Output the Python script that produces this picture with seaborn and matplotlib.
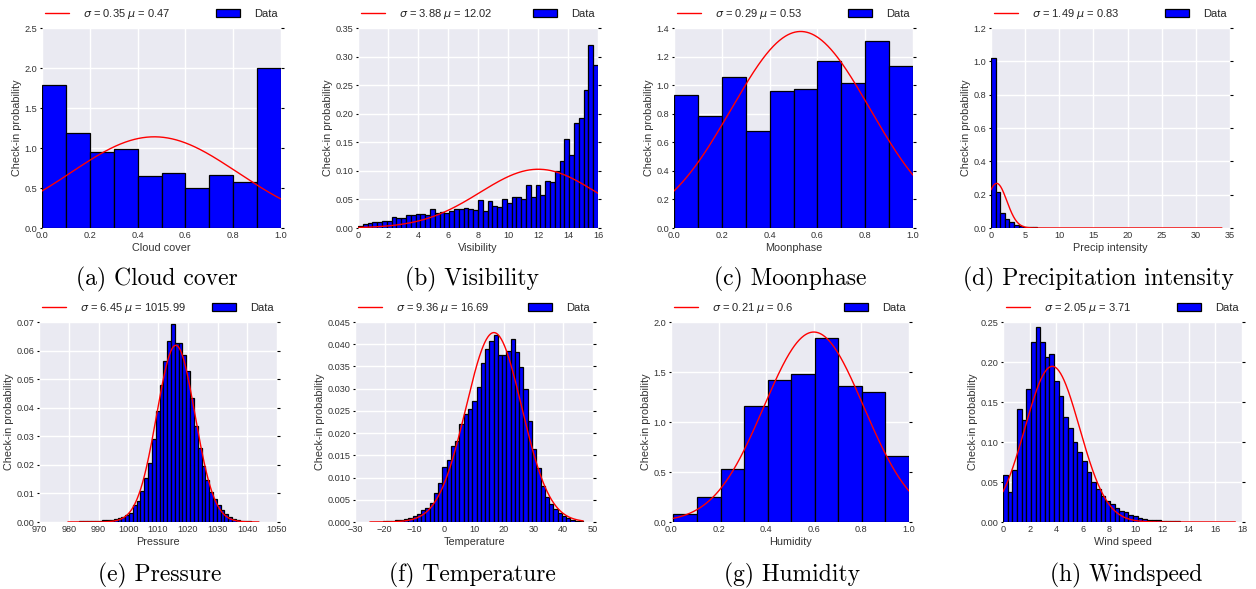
import numpy as np
import pandas as pd
import matplotlib
matplotlib.use("Agg")
import matplotlib.pyplot as plt
import seaborn as sns
from matplotlib.ticker import MultipleLocator, FormatStrFormatter

# ---------------- data ----------------
cloud_range = (0.0, 1.0)
cloud_density = [1.783, 1.183, 0.950, 0.990, 0.650, 0.690, 0.504, 0.667, 0.580, 2.004]
cloud_sigma, cloud_mu = 0.35, 0.47

vis_range = (0.0, 16.0)
vis_density = [0.003, 0.007, 0.009, 0.010, 0.011, 0.012, 0.013, 0.020, 0.018, 0.018,
               0.023, 0.022, 0.025, 0.024, 0.022, 0.033, 0.027, 0.028, 0.026, 0.029,
               0.033, 0.034, 0.035, 0.033, 0.032, 0.049, 0.030, 0.047, 0.038, 0.036,
               0.051, 0.044, 0.054, 0.054, 0.050, 0.075, 0.054, 0.076, 0.058, 0.082,
               0.081, 0.100, 0.118, 0.156, 0.128, 0.183, 0.192, 0.241, 0.320, 0.285]
vis_sigma, vis_mu = 3.88, 12.02

moon_range = (0.0, 1.0)
moon_density = [0.929, 0.784, 1.059, 0.677, 0.957, 0.975, 1.167, 1.017, 1.309, 1.132]
moon_sigma, moon_mu = 0.29, 0.53

precip_range = (0.0, 33.8)
precip_density = [1.020, 0.216, 0.090, 0.056, 0.034, 0.020, 0.012, 0.008, 0.006, 0.004,
                  0.003, 0.0025, 0.002, 0.0015, 0.0012, 0.001, 0.0008, 0.0006, 0.0005, 0.0004,
                  0.0003, 0.0003, 0.0002, 0.0002, 0.0002, 0.0001, 0.0001, 0.0001, 0.0001, 0.0001,
                  0.0001, 0.0001, 0.0, 0.0001, 0.0, 0.0, 0.0001, 0.0, 0.0, 0.0,
                  0.0, 0.0, 0.0, 0.0, 0.0, 0.0, 0.0, 0.0, 0.0, 0.0001]
precip_sigma, precip_mu = 1.49, 0.83

press_range = (979.7, 1043.9)
press_density = [0.0001, 0.0001, 0.0001, 0.0002, 0.0002, 0.0002, 0.0003, 0.0003, 0.0004, 0.0006,
                 0.0008, 0.0008, 0.0010, 0.0013, 0.0017, 0.0023, 0.0030, 0.0060, 0.0073, 0.0110,
                 0.0153, 0.0207, 0.0290, 0.0387, 0.0480, 0.0563, 0.0635, 0.0693, 0.0628, 0.0625,
                 0.0583, 0.0527, 0.0434, 0.0336, 0.0260, 0.0195, 0.0148, 0.0105, 0.0082, 0.0058,
                 0.0043, 0.0027, 0.0016, 0.0012, 0.0007, 0.0004, 0.0003, 0.0002, 0.0001, 0.0001]
press_sigma, press_mu = 6.45, 1015.99

temp_range = (-25.0, 46.7)
temp_density = [0.0001, 0.0001, 0.0001, 0.0002, 0.0002, 0.0003, 0.0004, 0.0005, 0.0007, 0.0010,
                0.0013, 0.0018, 0.0026, 0.0031, 0.0042, 0.0065, 0.0088, 0.0124, 0.0140, 0.0170,
                0.0182, 0.0220, 0.0243, 0.0255, 0.0272, 0.0303, 0.0358, 0.0390, 0.0408, 0.0420,
                0.0375, 0.0375, 0.0385, 0.0411, 0.0383, 0.0348, 0.0300, 0.0228, 0.0165, 0.0121,
                0.0082, 0.0057, 0.0040, 0.0029, 0.0020, 0.0013, 0.0008, 0.0005, 0.0003, 0.0002]
temp_sigma, temp_mu = 9.36, 16.69

hum_range = (0.01, 1.0)
hum_density = [0.080, 0.249, 0.528, 1.159, 1.425, 1.485, 1.840, 1.365, 1.302, 0.661]
hum_sigma, hum_mu = 0.21, 0.6

wind_range = (0.0, 17.5)
wind_density = [0.059, 0.037, 0.065, 0.141, 0.127, 0.166, 0.225, 0.244, 0.225, 0.206,
                0.210, 0.176, 0.158, 0.131, 0.117, 0.100, 0.087, 0.076, 0.063, 0.050,
                0.041, 0.032, 0.026, 0.022, 0.018, 0.014, 0.012, 0.009, 0.007, 0.005,
                0.004, 0.003, 0.0025, 0.002, 0.0015, 0.0012, 0.001, 0.0008, 0.0005, 0.0004,
                0.0003, 0.0003, 0.0002, 0.0002, 0.0001, 0.0001, 0.0001, 0.0001, 0.0001, 0.0001]
wind_sigma, wind_mu = 2.05, 3.71

x_labels = ["Cloud cover", "Visibility", "Moonphase", "Precip intensity",
            "Pressure", "Temperature", "Humidity", "Wind speed"]
captions = ["(a) Cloud cover", "(b) Visibility", "(c) Moonphase", "(d) Precipitation intensity",
            "(e) Pressure", "(f) Temperature", "(g) Humidity", "(h) Windspeed"]
y_label = "Check-in probability"

# ---------------- style ----------------
sns.set_style("darkgrid", {"axes.facecolor": "#EAEAF2", "grid.color": "white"})
plt.rcParams["font.family"] = ["Liberation Sans", "DejaVu Sans"]
plt.rcParams["mathtext.fontset"] = "dejavusans"

W, H = 1256, 589
fig = plt.figure(figsize=(W / 100, H / 100), dpi=100)

# axes pixel boxes (left, right, top, bottom)
boxes = [(42, 281, 28, 228), (358, 598, 28, 228), (674, 913, 28, 228), (991, 1230, 28, 228),
         (39, 277, 322, 522), (355, 593, 322, 522), (671, 909, 322, 522), (1003, 1242, 322, 522)]

panels = [
    (cloud_range, cloud_density, cloud_sigma, cloud_mu, (0, 1), 0.2, "%.1f", (0, 2.5), 0.5, "%.1f"),
    (vis_range, vis_density, vis_sigma, vis_mu, (0, 16), 2, "%d", (0, 0.35), 0.05, "%.2f"),
    (moon_range, moon_density, moon_sigma, moon_mu, (0, 1), 0.2, "%.1f", (0, 1.4), 0.2, "%.1f"),
    (precip_range, precip_density, precip_sigma, precip_mu, (0, 35), 5, "%d", (0, 1.2), 0.2, "%.1f"),
    (press_range, press_density, press_sigma, press_mu, (970, 1050), 10, "%d", (0, 0.07), 0.01, "%.2f"),
    (temp_range, temp_density, temp_sigma, temp_mu, (-30, 50), 10, None, (0, 0.045), 0.005, "%.3f"),
    (hum_range, hum_density, hum_sigma, hum_mu, (0, 1), 0.2, "%.1f", (0, 2.0), 0.5, "%.1f"),
    (wind_range, wind_density, wind_sigma, wind_mu, (0, 18), 2, "%d", (0, 0.25), 0.05, "%.2f"),
]

caption_pos = [(157, 279), (472, 279), (790, 279), (1098, 279),
               (160, 575), (472, 575), (792, 575), (1126, 575)]

for i, (box, panel) in enumerate(zip(boxes, panels)):
    (rng, dens, sig, mu, xlim, xstep, xfmt, ylim, ystep, yfmt) = panel
    l, r, t, b = box
    ax = fig.add_axes([l / W, 1 - b / H, (r - l) / W, (b - t) / H])
    n = len(dens)
    width = (rng[1] - rng[0]) / n
    centers = rng[0] + width * (np.arange(n) + 0.5)
    df = pd.DataFrame({"x": centers, "w": dens})
    sns.histplot(data=df, x="x", weights="w", bins=n, binrange=rng, stat="count", ax=ax,
                 color="#0000FF", edgecolor="black", linewidth=0.9, alpha=1.0,
                 label="Data")
    xs = np.linspace(rng[0], rng[1], 400)
    pdf = np.exp(-(xs - mu) ** 2 / (2 * sig ** 2)) / (sig * np.sqrt(2 * np.pi))
    lab = r"$\sigma$ = " + f"{sig}" + r" $\mu$ = " + f"{mu}"
    sns.lineplot(x=xs, y=pdf, color="red", linewidth=1.0, ax=ax, label=lab)

    ax.set_xlim(*xlim)
    ax.set_ylim(*ylim)
    ax.xaxis.set_major_locator(MultipleLocator(xstep))
    ax.yaxis.set_major_locator(MultipleLocator(ystep))
    if xfmt:
        ax.xaxis.set_major_formatter(FormatStrFormatter(xfmt))
    ax.yaxis.set_major_formatter(FormatStrFormatter(yfmt))
    ax.tick_params(axis="both", labelsize=6.6, colors="#333333")
    ax.tick_params(axis="x", bottom=False, length=0, pad=2.5)
    ax.tick_params(axis="y", left=True, right=True, direction="out", length=1.8,
                   width=0.8, color="black", pad=1.5)
    ax.set_xlabel(x_labels[i], fontsize=7.8, color="#333333", labelpad=2)
    ax.set_ylabel(y_label, fontsize=7.8, color="#333333", labelpad=2)
    ax.grid(True, color="white", linewidth=1.0)
    ax.set_axisbelow(True)
    for s in ax.spines.values():
        s.set_visible(False)

    handles, labels = ax.get_legend_handles_labels()
    order = [labels.index(lab), labels.index("Data")]
    ax.legend([handles[k] for k in order], [labels[k] for k in order],
              loc="center", bbox_to_anchor=(0, 1.07, 1, 0), mode="expand", ncol=2,
              frameon=False, fontsize=8, handlelength=2.1, borderaxespad=0,
              borderpad=0.3, handletextpad=1.3)

    cx, cy = caption_pos[i]
    fig.text(cx / W, 1 - cy / H, captions[i], family=["cmr10", "DejaVu Serif"],
             fontsize=17, ha="center", va="center", color="black")

fig.savefig("out.png", dpi=100)
